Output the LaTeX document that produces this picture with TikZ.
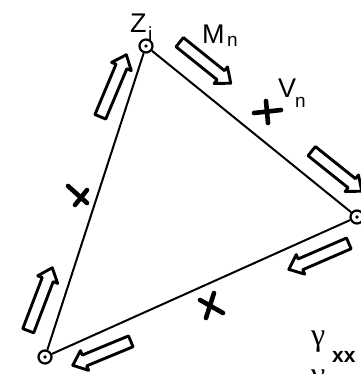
\documentclass[tikz,border=0pt]{standalone}
\usepackage{fontspec}
\setmainfont{Liberation Sans}
\newfontfamily\greekfont{Liberation Serif}
\usetikzlibrary{calc,shapes.arrows}
\tikzset{
  edge/.style={line width=2pt},
  vtx/.style={circle,draw,line width=2.2pt,minimum size=13pt,inner sep=0pt},
  harrow/.style={single arrow,draw,line width=2.9pt,inner xsep=0pt,inner ysep=4.4pt,
    single arrow head extend=4.8pt,single arrow tip angle=80,line join=round},
  xmark/.style={line width=4.6pt,line cap=round},
  lbl/.style={inner sep=0pt,font=\fontsize{27}{29}\selectfont},
  glbl/.style={inner sep=0pt,font=\greekfont\fontsize{32}{34}\selectfont},
  sub/.style={inner sep=0pt,font=\fontsize{19}{21}\selectfont},
  bsub/.style={inner sep=0pt,font=\bfseries\fontsize{21}{23}\selectfont}
}
\newcommand\hollowarr[3]{\path let \p1=($(#3)-(#2)$), \n1={veclen(\x1,\y1)}, \n2={atan2(\y1,\x1)} in
  node[harrow,minimum height=\n1,rotate=\n2] (#1) at ($(#2)!0.5!(#3)$) {};}
\begin{document}
\begin{tikzpicture}[x=1pt,y=-1pt]
\useasboundingbox (0,0) rectangle (360,374);
% vertices
\node[vtx] (top) at (146,46) {};
\node[vtx] (right) at (357,217) {};
\node[vtx] (left) at (45,357) {};
\fill (top) circle (1.9pt);
\fill (right) circle (1.9pt);
\fill (left) circle (1.9pt);
% edges
\draw[edge] (top) -- (right);
\draw[edge] (right) -- (left);
\draw[edge] (left) -- (top);
% crosses
\draw[xmark] (254,113) -- (281,110) (266,101) -- (268,123);
\draw[xmark] (68,186) -- (87,203) (75,205) -- (87,190);
\draw[xmark] (200,300) -- (223,313) (214,293) -- (206,318);
% hollow arrows
\coordinate (a1s) at (177,40); \coordinate (a1e) at (228,81);
\coordinate (a2s) at (309,149); \coordinate (a2e) at (359,189);
\coordinate (a3s) at (352,242); \coordinate (a3e) at (292,268);
\coordinate (a4s) at (134,340); \coordinate (a4e) at (76,364);
\coordinate (a5s) at (99,120); \coordinate (a5e) at (125,58);
\coordinate (a6s) at (27,334); \coordinate (a6e) at (51,271);
\hollowarr{h1}{a1s}{a1e}
\hollowarr{h2}{a2s}{a2e}
\hollowarr{h3}{a3s}{a3e}
\hollowarr{h4}{a4s}{a4e}
\hollowarr{h5}{a5s}{a5e}
\hollowarr{h6}{a6s}{a6e}
% labels
\node[lbl,anchor=base west] (zl) at (130,33) {Z};
\node[sub,anchor=base west] (zi) at (148,41) {i};
\node[lbl,anchor=base west] (ml) at (202,44) {M};
\node[sub,anchor=base west] (mn) at (227,47) {n};
\node[lbl,anchor=base west] (vl) at (278,98) {V};
\node[sub,anchor=base west] (vn) at (295,108) {n};
\node[glbl,anchor=base west] (gl) at (311,345) {γ};
\node[bsub,anchor=base west] (gx) at (332,362) {xx};
\node[glbl,anchor=base west] (g2) at (311,384) {γ};
\end{tikzpicture}
\end{document}
